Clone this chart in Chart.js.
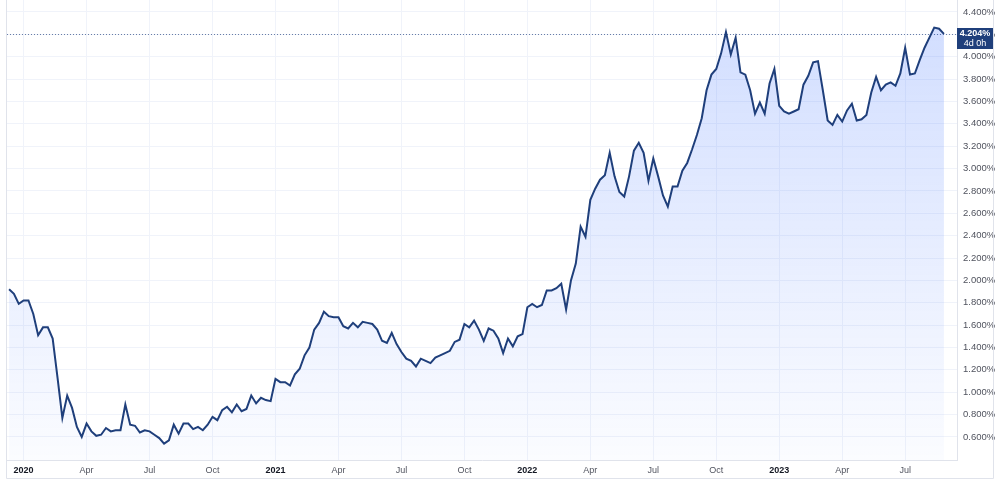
<!DOCTYPE html>
<html lang="es">
<head>
<meta charset="utf-8">
<title>Rendimiento semanal</title>
<script src="https://cdn.jsdelivr.net/npm/chart.js@4.4.0/dist/chart.umd.min.js"></script>
<style>
    html, body { margin: 0; padding: 0; background: #ffffff; }
    #grafico { display: block; }
</style>
</head>
<body>
<canvas id="grafico" width="1000" height="481"></canvas>
<script>
// Valores semanales (%), semana 0 = 16 dic 2019 ... semana 193 = 28 ago 2023
const valores = [
    1.92, 1.88, 1.79, 1.82, 1.82, 1.70, 1.51, 1.58, 1.58, 1.48,
    1.13, 0.77, 0.97, 0.86, 0.69, 0.60, 0.72, 0.65, 0.61, 0.62,
    0.68, 0.65, 0.66, 0.66, 0.89, 0.71, 0.70, 0.64, 0.66, 0.65,
    0.62, 0.59, 0.54, 0.57, 0.71, 0.63, 0.72, 0.72, 0.67, 0.69,
    0.66, 0.71, 0.78, 0.75, 0.84, 0.87, 0.82, 0.89, 0.83, 0.85,
    0.97, 0.90, 0.95, 0.93, 0.92, 1.12, 1.09, 1.09, 1.06, 1.16,
    1.21, 1.33, 1.40, 1.56, 1.62, 1.72, 1.68, 1.67, 1.67, 1.59,
    1.57, 1.62, 1.58, 1.63, 1.62, 1.61, 1.56, 1.46, 1.44, 1.53,
    1.43, 1.36, 1.30, 1.28, 1.23, 1.30, 1.28, 1.26, 1.31, 1.33,
    1.35, 1.37, 1.45, 1.47, 1.61, 1.58, 1.64, 1.56, 1.46, 1.57,
    1.55, 1.48, 1.35, 1.48, 1.41, 1.50, 1.52, 1.76, 1.79, 1.76,
    1.78, 1.91, 1.91, 1.93, 1.97, 1.74, 2.00, 2.15, 2.48, 2.39,
    2.72, 2.82, 2.90, 2.94, 3.14, 2.93, 2.79, 2.75, 2.93, 3.16,
    3.23, 3.14, 2.89, 3.09, 2.93, 2.76, 2.66, 2.84, 2.84, 2.98,
    3.05, 3.17, 3.30, 3.45, 3.70, 3.84, 3.89, 4.03, 4.22, 4.02,
    4.17, 3.86, 3.84, 3.70, 3.49, 3.59, 3.49, 3.76, 3.89, 3.56,
    3.51, 3.49, 3.51, 3.53, 3.75, 3.83, 3.95, 3.96, 3.70, 3.43,
    3.39, 3.48, 3.42, 3.52, 3.58, 3.43, 3.44, 3.48, 3.68, 3.82,
    3.70, 3.75, 3.77, 3.74, 3.85, 4.08, 3.84, 3.85, 3.97, 4.08,
    4.17, 4.26, 4.25, 4.204
];

// Eje X: semana donde empieza cada trimestre y su etiqueta
const semanasMarca = [3, 16, 29, 42, 55, 68, 81, 94, 107, 120, 133, 146, 159, 172, 185];
const etiquetasX = ['2020', 'Apr', 'Jul', 'Oct', '2021', 'Apr', 'Jul', 'Oct', '2022', 'Apr', 'Jul', 'Oct', '2023', 'Apr', 'Jul'];

// Eje Y
const marcasY = [0.6, 0.8, 1.0, 1.2, 1.4, 1.6, 1.8, 2.0, 2.2, 2.4, 2.6, 2.8, 3.0, 3.2, 3.4, 3.6, 3.8, 4.0, 4.2, 4.4];

// Etiqueta del último precio
const ultimoValor = valores[valores.length - 1];
const textoTiempo = '4d 0h';

const colorLinea = '#1f3f7b';
const colorBorde = '#e0e3eb';
const fuente = '"Liberation Sans", Arial, sans-serif';

const puntos = valores.map((v, i) => ({ x: i, y: v }));

// ---- Plugin: línea punteada del último valor + marco ----
const pluginUltimo = {
    id: 'ultimoValor',
    afterDatasetsDraw(chart) {
        const { ctx, chartArea, scales } = chart;
        const y = Math.round(scales.y.getPixelForValue(ultimoValor)) + 0.5;
        ctx.save();
        ctx.strokeStyle = 'rgba(31, 63, 123, 0.65)';
        ctx.lineWidth = 1;
        ctx.setLineDash([1, 2]);
        ctx.beginPath();
        ctx.moveTo(chartArea.left, y);
        ctx.lineTo(chartArea.right, y);
        ctx.stroke();
        ctx.restore();
    },
    afterDraw(chart) {
        const { ctx, chartArea, scales } = chart;
        const y = scales.y.getPixelForValue(ultimoValor);
        ctx.save();
        // marco
        ctx.strokeStyle = colorBorde;
        ctx.lineWidth = 1;
        ctx.beginPath();
        ctx.moveTo(6.5, 0);
        ctx.lineTo(6.5, 478.5);
        ctx.lineTo(993.5, 478.5);
        ctx.lineTo(993.5, 0);
        ctx.stroke();
        // caja del precio
        const x0 = chartArea.right;
        ctx.fillStyle = colorLinea;
        ctx.fillRect(x0, Math.round(y) - 6, 36, 21);
        ctx.fillStyle = '#ffffff';
        ctx.textAlign = 'center';
        ctx.textBaseline = 'middle';
        ctx.font = 'bold 9px ' + fuente;
        ctx.fillText(ultimoValor.toFixed(3) + '%', x0 + 18, Math.round(y) - 0.5);
        ctx.font = '9px ' + fuente;
        ctx.fillText(textoTiempo, x0 + 18, Math.round(y) + 9.5);
        ctx.restore();
    }
};

const ctx = document.getElementById('grafico').getContext('2d');
const grafico = new Chart(ctx, {
    type: 'line',
    data: {
        datasets: [{
            data: puntos,
            borderColor: colorLinea,
            borderWidth: 2,
            pointRadius: 0,
            tension: 0,
            fill: 'start',
            backgroundColor: (c) => {
                const area = c.chart.chartArea;
                if (!area) return 'rgba(41, 98, 255, 0.1)';
                const g = c.chart.ctx.createLinearGradient(0, area.top, 0, area.bottom);
                g.addColorStop(0, 'rgba(41, 98, 255, 0.22)');
                g.addColorStop(1, 'rgba(41, 98, 255, 0.02)');
                return g;
            }
        }]
    },
    options: {
        responsive: false,
        animation: false,
        devicePixelRatio: 1,
        layout: { padding: { left: 7, top: 0, right: 0, bottom: 0 } },
        plugins: { legend: { display: false }, tooltip: { enabled: false } },
        scales: {
            x: {
                type: 'linear',
                min: -0.43,
                max: 195.7,
                afterBuildTicks: (s) => { s.ticks = semanasMarca.map(v => ({ value: v })); },
                afterFit: (s) => { s.height = 21; s.paddingLeft = 0; s.paddingRight = 0; },
                grid: { color: '#f0f3fa', drawTicks: false },
                border: { color: colorBorde },
                ticks: {
                    autoSkip: false,
                    maxRotation: 0,
                    padding: 5,
                    color: (c) => /^\d{4}$/.test(etiquetasX[c.index]) ? '#131722' : '#50535e',
                    font: (c) => ({ family: fuente, size: 9, weight: /^\d{4}$/.test(etiquetasX[c.index]) ? 'bold' : 'normal' }),
                    callback: (v, i) => etiquetasX[i]
                }
            },
            y: {
                position: 'right',
                min: 0.394,
                max: 4.507,
                afterBuildTicks: (s) => { s.ticks = marcasY.map(v => ({ value: v })); },
                afterFit: (s) => { s.width = 43; s.paddingTop = 0; s.paddingBottom = 0; },
                grid: { color: '#f0f3fa', drawTicks: false },
                border: { color: colorBorde },
                ticks: {
                    padding: 6,
                    color: '#50535e',
                    font: { family: fuente, size: 9.5 },
                    callback: (v) => Number(v).toFixed(3) + '%'
                }
            }
        }
    },
    plugins: [pluginUltimo]
});
</script>
</body>
</html>
